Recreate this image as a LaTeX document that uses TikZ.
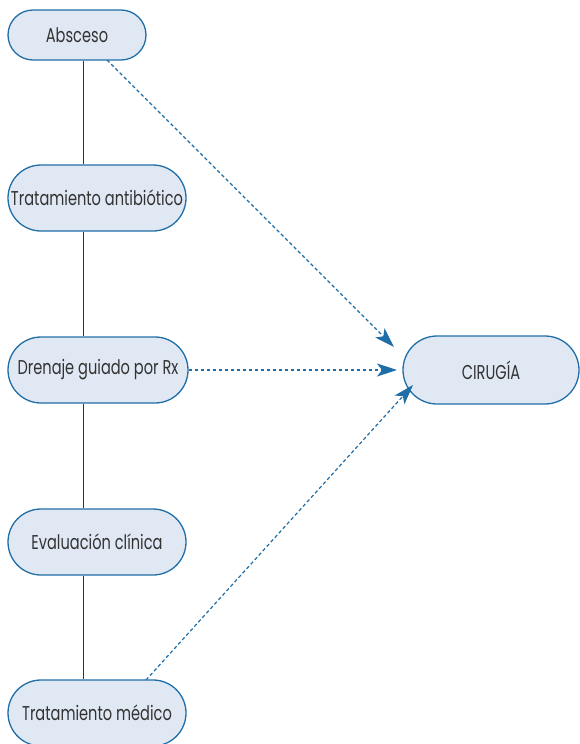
\documentclass[tikz,border=0pt]{standalone}
\usepackage{fontspec}
\setmainfont[FakeStretch=0.73]{Poppins}
\usetikzlibrary{shapes.misc,arrows.meta}
\definecolor{lineblue}{HTML}{1F6EA8}
\definecolor{fillblue}{HTML}{DFE8F3}
\definecolor{txt}{HTML}{333333}
\tikzset{
  pill/.style={rounded rectangle, draw=lineblue, fill=fillblue, line width=1.3pt,
    inner sep=0pt, text=txt, font=\fontsize{20}{24}\selectfont},
  vline/.style={draw=lineblue!55!black, line width=1pt},
  darrow/.style={draw=lineblue, line width=1.2pt, dash pattern=on 3.5pt off 2.5pt,
    -{Stealth[length=20pt,width=13pt,inset=5pt]}}
}
\begin{document}
\begin{tikzpicture}[x=1pt,y=-1pt]
\useasboundingbox (0,0) rectangle (580,744);
\node[pill, minimum width=138pt, minimum height=50pt] (abs) at (77,35) {Absceso};
\node[pill, minimum width=178pt, minimum height=66pt] (ant) at (97,198) {Tratamiento antibiótico};
\node[pill, minimum width=180pt, minimum height=66pt] (dre) at (98,370) {Drenaje guiado por Rx};
\node[pill, minimum width=178pt, minimum height=66pt] (eva) at (97,542) {Evaluación clínica};
\node[pill, minimum width=178pt, minimum height=66pt] (med) at (97,713) {Tratamiento médico};
\node[pill, minimum width=176pt, minimum height=68pt] (cir) at (491,370) {CIRUGÍA};
\coordinate (vx) at (83,0);
\draw[vline] (abs.south -| vx) -- (ant.north -| vx);
\draw[vline] (ant.south -| vx) -- (dre.north -| vx);
\draw[vline] (dre.south -| vx) -- (eva.north -| vx);
\draw[vline] (eva.south -| vx) -- (med.north -| vx);
\coordinate (s1) at (107,60);
\coordinate (t1) at (394,347);
\coordinate (t2) at (397,370);
\coordinate (s3) at (146,680);
\coordinate (t3) at (413,385);
\draw[darrow] (s1) -- (t1);
\draw[darrow] (dre.east) -- (t2);
\draw[darrow] (s3) -- (t3);
\end{tikzpicture}
\end{document}
